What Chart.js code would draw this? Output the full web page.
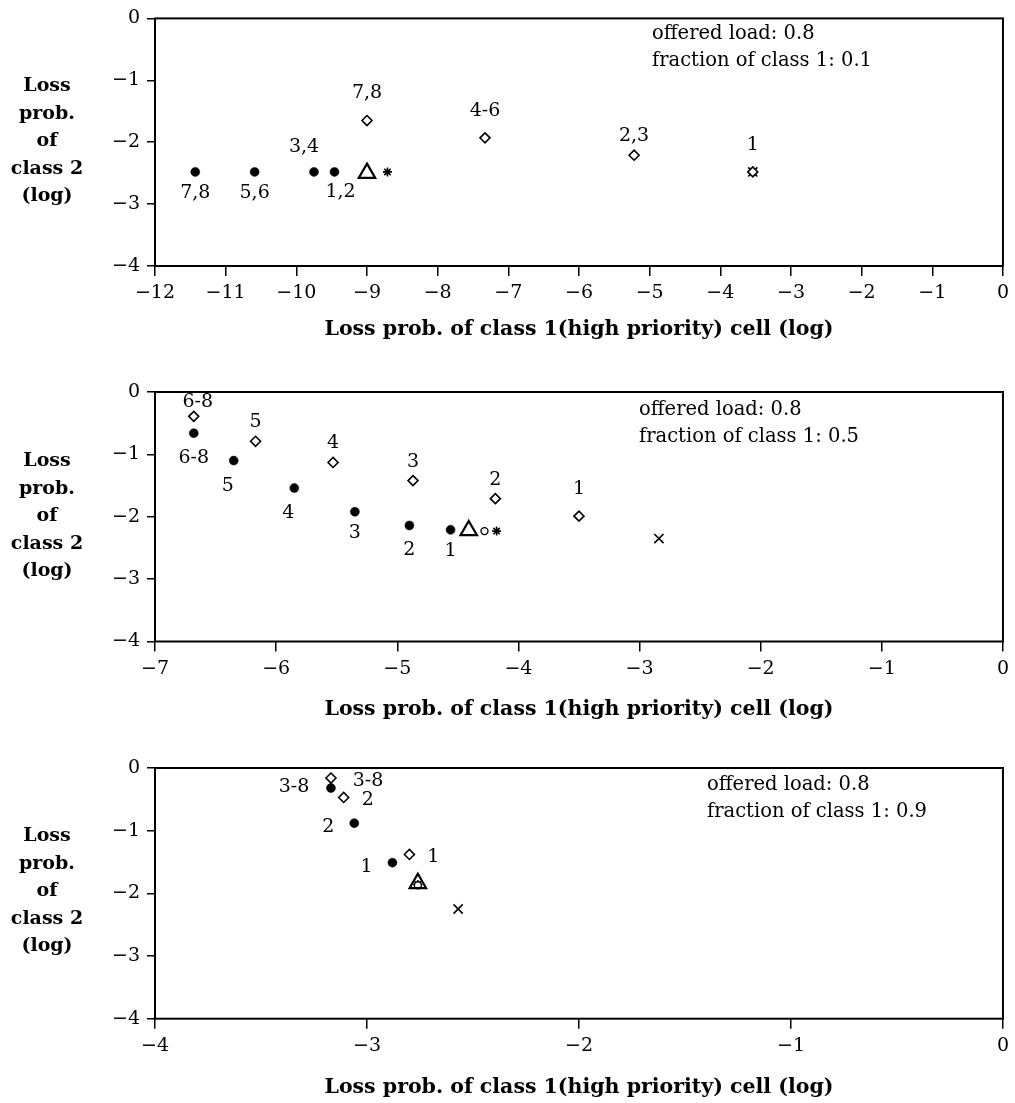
<!DOCTYPE html>
<html><head><meta charset="utf-8">
<script src="https://cdn.jsdelivr.net/npm/chart.js@4/dist/chart.umd.min.js"></script>
<style>
html,body{margin:0;padding:0;background:#fff;}
#page{position:relative;width:1015px;height:1103px;overflow:hidden;background:#fff;}
.panel{position:absolute;left:0;width:1015px;}
.panel canvas{position:absolute;left:0;top:0;}
.ytitle{position:absolute;left:0;width:94px;text-align:center;font-family:"DejaVu Serif";font-weight:bold;font-size:19px;line-height:27.5px;color:#000;}
.note{position:absolute;font-family:"DejaVu Serif";font-size:19.5px;line-height:27px;color:#000;white-space:nowrap;}
</style></head><body>
<div id="page"></div>
<script>
// ---------- DATA ----------
const yTicks = [0, -1, -2, -3, -4];
const xTicks1 = [-12, -11, -10, -9, -8, -7, -6, -5, -4, -3, -2, -1, 0];
const xTicks2 = [-7, -6, -5, -4, -3, -2, -1, 0];
const xTicks3 = [-4, -3, -2, -1, 0];

const xTitle = 'Loss prob. of class 1(high priority) cell (log)';
const yTitleLines = ['Loss', 'prob.', 'of', 'class 2', '(log)'];
const noteLoad = 'offered load: 0.8';
const noteFractions = ['0.1', '0.5', '0.9'];

// panel 1 (fraction 0.1)
const p1Filled = [[-11.43, -2.48], [-10.59, -2.48], [-9.75, -2.48], [-9.46, -2.48]];
const p1FilledLabels = ['7,8', '5,6', '3,4', '1,2'];
const p1Diamond = [[-9.0, -1.65], [-7.33, -1.93], [-5.22, -2.21], [-3.54, -2.48]];
const p1DiamondLabels = ['7,8', '4-6', '2,3', '1'];
const p1Triangle = [[-9.0, -2.5]];
const p1Circle = [];
const p1Star = [[-8.71, -2.48]];
const p1Cross = [[-3.54, -2.48]];

// panel 2 (fraction 0.5)
const p2Filled = [[-6.68, -0.66], [-6.35, -1.10], [-5.85, -1.54], [-5.35, -1.92], [-4.90, -2.14], [-4.56, -2.21]];
const p2FilledLabels = ['6-8', '5', '4', '3', '2', '1'];
const p2Diamond = [[-6.68, -0.39], [-6.17, -0.79], [-5.53, -1.13], [-4.87, -1.42], [-4.19, -1.71], [-3.50, -1.99]];
const p2DiamondLabels = ['6-8', '5', '4', '3', '2', '1'];
const p2Triangle = [[-4.41, -2.22]];
const p2Circle = [[-4.28, -2.23]];
const p2Star = [[-4.18, -2.23]];
const p2Cross = [[-2.84, -2.35]];

// panel 3 (fraction 0.9)
const p3Filled = [[-3.17, -0.32], [-3.06, -0.88], [-2.88, -1.51]];
const p3FilledLabels = ['3-8', '2', '1'];
const p3Diamond = [[-3.17, -0.16], [-3.11, -0.47], [-2.80, -1.38]];
const p3DiamondLabels = ['3-8', '2', '1'];
const p3Triangle = [[-2.76, -1.84]];
const p3Circle = [[-2.76, -1.87]];
const p3Star = [[-2.76, -1.86]];
const p3Cross = [[-2.57, -2.25]];

// label placement codes (layout only)
const p1FilledPlace = ['b', 'b', 'al', 'br'];
const p1DiamondPlace = ['A', 'A', 'a', 'A'];
const p2FilledPlace = ['B', 'bl', 'bl', 'b', 'B', 'b'];
const p2DiamondPlace = ['at', 'a', 'a', 'a', 'a', 'A'];
const p3FilledPlace = ['ll', 'l', 'l'];
const p3DiamondPlace = ['rr', 'r', 'r'];

// ---------- LAYOUT / STYLE ----------
const OFFSETS = {
  a: [0, -19], A: [0, -27], at: [4, -14],
  b: [0, 21], B: [0, 25], al: [-10, -25], br: [6, 20], bl: [-6, 25],
  l: [-26, 4], ll: [-37, -1], r: [24, 3], rr: [37, 3]
};
const SERIF = '"DejaVu Serif", "Liberation Serif", serif';

const panels = [
  { top: 0, h: 368, padTop: 16, xH: 102, titlePB: 26, noteLeft: 652, noteTop: 18.5, yTitleTop: 71,
    xTicks: xTicks1, filled: p1Filled, filledLabels: p1FilledLabels, filledPlace: p1FilledPlace,
    diamond: p1Diamond, diamondLabels: p1DiamondLabels, diamondPlace: p1DiamondPlace,
    tri: p1Triangle, circ: p1Circle, star: p1Star, cross: p1Cross, frac: noteFractions[0] },
  { top: 368, h: 368, padTop: 24, xH: 94.5, titlePB: 14, noteLeft: 639, noteTop: 26.5, yTitleTop: 78,
    xTicks: xTicks2, filled: p2Filled, filledLabels: p2FilledLabels, filledPlace: p2FilledPlace,
    diamond: p2Diamond, diamondLabels: p2DiamondLabels, diamondPlace: p2DiamondPlace,
    tri: p2Triangle, circ: p2Circle, star: p2Star, cross: p2Cross, frac: noteFractions[1] },
  { top: 736, h: 367, padTop: 32, xH: 84.3, titlePB: 3, noteLeft: 707, noteTop: 33.5, yTitleTop: 85,
    xTicks: xTicks3, filled: p3Filled, filledLabels: p3FilledLabels, filledPlace: p3FilledPlace,
    diamond: p3Diamond, diamondLabels: p3DiamondLabels, diamondPlace: p3DiamondPlace,
    tri: p3Triangle, circ: p3Circle, star: p3Star, cross: p3Cross, frac: noteFractions[2] }
];

const fmt = v => (v < 0 ? '\u2212' + Math.abs(v) : String(v));
const toXY = arr => arr.map(([x, y]) => ({ x, y }));

const framePlugin = {
  id: 'frame',
  beforeDatasetsDraw(chart) {
    const { ctx, chartArea: a } = chart;
    ctx.save();
    ctx.strokeStyle = '#000';
    ctx.lineWidth = 2;
    ctx.strokeRect(a.left, a.top, a.right - a.left, a.bottom - a.top);
    ctx.restore();
  }
};

const labelPlugin = {
  id: 'pointLabels',
  afterDatasetsDraw(chart) {
    const ctx = chart.ctx;
    chart.data.datasets.forEach((ds, i) => {
      if (!ds.pointLabels) return;
      const meta = chart.getDatasetMeta(i);
      ctx.save();
      ctx.font = '19px ' + SERIF;
      ctx.fillStyle = '#000';
      ctx.textAlign = 'center';
      ctx.textBaseline = 'middle';
      meta.data.forEach((el, j) => {
        const off = OFFSETS[ds.labelPlace[j]] || [0, 0];
        ctx.fillText(ds.pointLabels[j], el.x + off[0], el.y + off[1]);
      });
      ctx.restore();
    });
  }
};

const page = document.getElementById('page');

panels.forEach(p => {
  const div = document.createElement('div');
  div.className = 'panel';
  div.style.top = p.top + 'px';
  div.style.height = p.h + 'px';
  const cv = document.createElement('canvas');
  cv.width = 1015; cv.height = p.h;
  cv.style.width = '1015px'; cv.style.height = p.h + 'px';
  div.appendChild(cv);

  const yt = document.createElement('div');
  yt.className = 'ytitle';
  yt.style.top = p.yTitleTop + 'px';
  yt.innerHTML = yTitleLines.map(s => '<div>' + s + '</div>').join('');
  div.appendChild(yt);

  const note = document.createElement('div');
  note.className = 'note';
  note.style.left = p.noteLeft + 'px';
  note.style.top = p.noteTop + 'px';
  note.innerHTML = '<div>' + noteLoad + '</div><div>fraction of class 1: ' + p.frac + '</div>';
  div.appendChild(note);
  page.appendChild(div);

  const xmin = Math.min(...p.xTicks), xmax = Math.max(...p.xTicks);

  new Chart(cv, {
    type: 'scatter',
    data: {
      datasets: [
        { data: toXY(p.diamond), pointStyle: 'rectRot', pointRadius: 5, pointBackgroundColor: '#fff',
          pointBorderColor: '#000', pointBorderWidth: 1.6, pointLabels: p.diamondLabels, labelPlace: p.diamondPlace },
        { data: toXY(p.filled), pointStyle: 'circle', pointRadius: 4.5, pointBackgroundColor: '#000',
          pointBorderColor: '#000', pointBorderWidth: 0.5, pointLabels: p.filledLabels, labelPlace: p.filledPlace },
        { data: toXY(p.tri), pointStyle: 'triangle', pointRadius: 9.5, pointBackgroundColor: 'rgba(0,0,0,0)',
          pointBorderColor: '#000', pointBorderWidth: 2.2 },
        { data: toXY(p.circ), pointStyle: 'circle', pointRadius: 3.5, pointBackgroundColor: '#fff',
          pointBorderColor: '#000', pointBorderWidth: 1.4 },
        { data: toXY(p.star), pointStyle: 'star', pointRadius: 4.5, pointBorderColor: '#000', pointBorderWidth: 1.6 },
        { data: toXY(p.cross), pointStyle: 'crossRot', pointRadius: 6.5, pointBorderColor: '#000', pointBorderWidth: 1.6 }
      ]
    },
    options: {
      responsive: false,
      animation: false,
      devicePixelRatio: 1,
      events: [],
      layout: { padding: { top: p.padTop, right: 12, bottom: 0, left: 0 } },
      plugins: { legend: { display: false }, tooltip: { enabled: false } },
      scales: {
        x: {
          type: 'linear', min: xmin, max: xmax,
          afterBuildTicks: s => { s.ticks = p.xTicks.map(v => ({ value: v })); },
          afterFit: s => { s.height = p.xH; },
          ticks: { color: '#000', font: { family: SERIF, size: 19 }, padding: 6, maxRotation: 0, autoSkip: false,
                   callback: v => fmt(v) },
          grid: { drawOnChartArea: false, drawTicks: true, tickLength: 10, color: '#000', lineWidth: 1.5 },
          border: { display: false },
          title: { display: true, text: xTitle, color: '#000',
                   font: { family: SERIF, size: 20.5, weight: 'bold' }, padding: { top: 0, bottom: p.titlePB } }
        },
        y: {
          type: 'linear', min: -4, max: 0,
          afterBuildTicks: s => { s.ticks = yTicks.map(v => ({ value: v })); },
          afterFit: s => { s.width = 155; },
          ticks: { color: '#000', font: { family: SERIF, size: 19 }, padding: 7, autoSkip: false,
                   callback: v => fmt(v) },
          grid: { drawOnChartArea: false, drawTicks: true, tickLength: 8, color: '#000', lineWidth: 1.5 },
          border: { display: false }
        }
      }
    },
    plugins: [framePlugin, labelPlugin]
  });
});
</script>
</body></html>
